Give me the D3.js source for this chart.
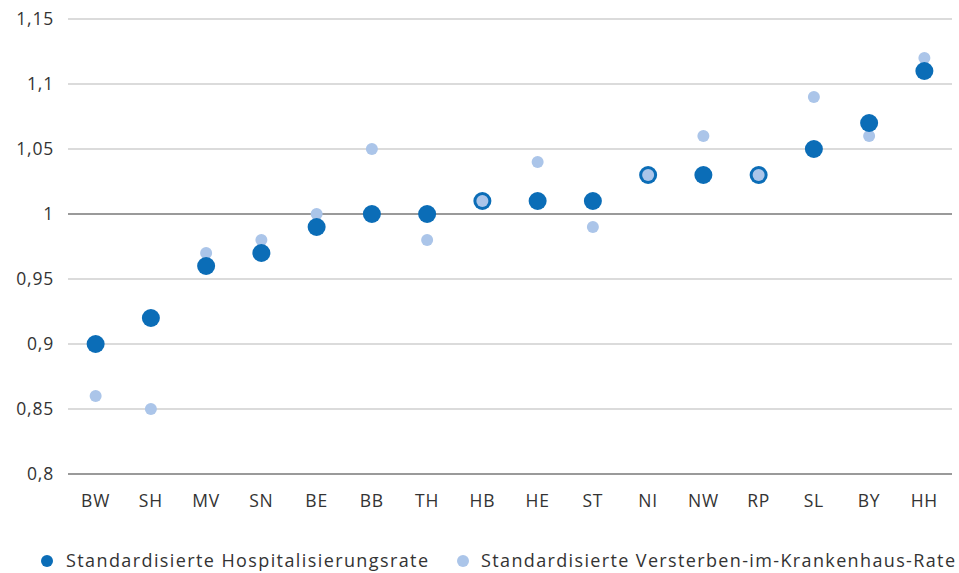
<!DOCTYPE html>
<html><head><meta charset="utf-8">
<script src="https://d3js.org/d3.v7.min.js"></script>
<style>body{margin:0;background:#fff}svg{display:block}text{font-family:"Open Sans",sans-serif;fill:#333}</style>
</head><body><svg id="c" width="959" height="573"></svg>
<script>
const categories = ["BW","SH","MV","SN","BE","BB","TH","HB","HE","ST","NI","NW","RP","SL","BY","HH"];
const hospRate = [0.90,0.92,0.96,0.97,0.99,1.00,1.00,1.01,1.01,1.01,1.03,1.03,1.03,1.05,1.07,1.11];
const mortRate = [0.86,0.85,0.97,0.98,1.00,1.05,0.98,1.01,1.04,0.99,1.03,1.06,1.03,1.09,1.06,1.12];
const yTicks = [0.8,0.85,0.9,0.95,1,1.05,1.1,1.15];
const seriesNames = ["Standardisierte Hospitalisierungsrate","Standardisierte Versterben-im-Krankenhaus-Rate"];
const colors = ["#0b6db7","#abc5e9"];

const svg = d3.select("#c");
const x = d3.scaleBand().domain(categories).range([68,952]);
const y = d3.scaleLinear().domain([0.8,1.15]).range([474,19]);
const fmt = v => String(v).replace(".", ",");
const cx = i => x(categories[i]) + x.bandwidth()/2;

const grid = svg.append("g");
yTicks.forEach(t=>{
  const strong = (t===1 || t===0.8);
  grid.append("line").attr("x1",68).attr("x2",952).attr("y1",y(t)).attr("y2",y(t))
    .attr("stroke", strong ? "#9a9a9a" : "#cfcfcf").attr("stroke-width", strong?2:1.5);
  grid.append("text").attr("x",54).attr("y",y(t)).attr("dy","0.35em").attr("text-anchor","end")
    .attr("font-size",17.5).attr("letter-spacing",0.8).text(fmt(t));
});
categories.forEach(c=>{
  svg.append("text").attr("x",x(c)+x.bandwidth()/2).attr("y",507).attr("text-anchor","middle")
    .attr("font-size",17.5).attr("letter-spacing",0.8).text(c);
});
// light series underneath
svg.append("g").selectAll("circle").data(mortRate).join("circle")
  .attr("cx",(d,i)=>cx(i)).attr("cy",d=>y(d)).attr("r",6).attr("fill",colors[1]);
svg.append("g").selectAll("circle").data(hospRate).join("circle")
  .attr("cx",(d,i)=>cx(i)).attr("cy",d=>y(d)).attr("r",9).attr("fill",colors[0]);
// where both rates coincide the light marker shows on top
svg.append("g").selectAll("circle")
  .data(mortRate.map((d,i)=>({d,i})).filter(o=>o.d===hospRate[o.i])).join("circle")
  .attr("cx",o=>cx(o.i)).attr("cy",o=>y(o.d)).attr("r",6).attr("fill",colors[1]);

const lg = svg.append("g");
[[47,66,362],[463,481,474]].forEach((p,i)=>{
  lg.append("circle").attr("cx",p[0]).attr("cy",561).attr("r",6).attr("fill",colors[i]);
  lg.append("text").attr("x",p[1]).attr("y",561).attr("dy","0.35em").attr("font-size",18)
    .attr("textLength",p[2]).attr("lengthAdjust","spacing").text(seriesNames[i]);
});
</script></body></html>
